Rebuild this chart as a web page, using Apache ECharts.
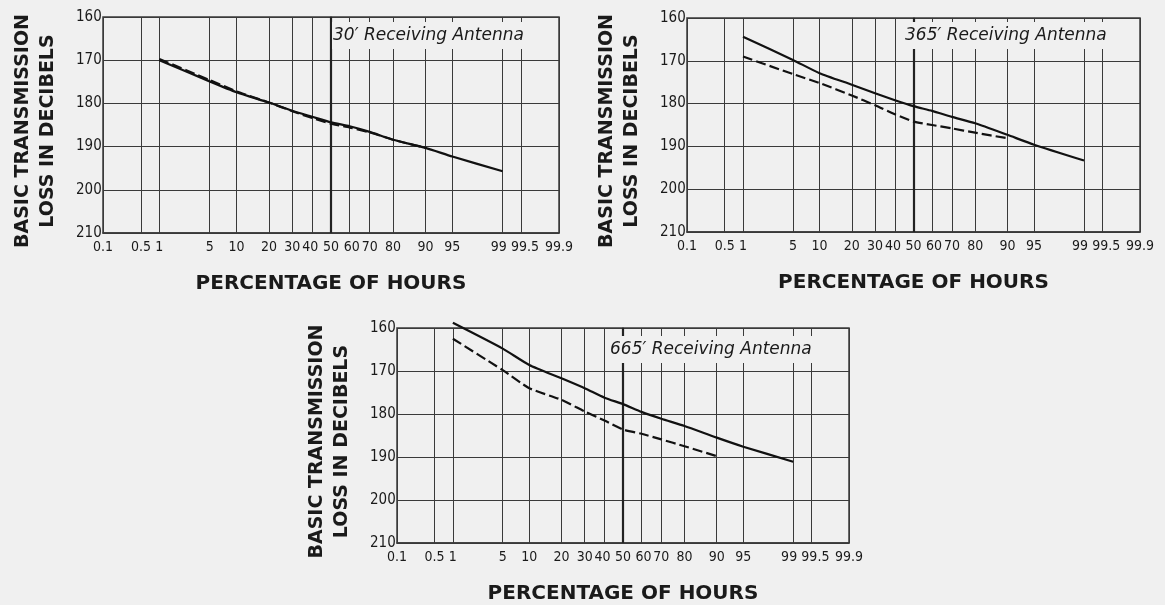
<!DOCTYPE html>
<html>
<head>
<meta charset="utf-8">
<script src="https://cdn.jsdelivr.net/npm/echarts@6/dist/echarts.min.js"></script>
<style>
  html, body { margin: 0; padding: 0; background: #f0f0f0; }
  #chart { width: 1165px; height: 605px; }
</style>
</head>
<body>
<div id="chart"></div>
<script>
// ---- data ----
const percentTicks = [0.1, 0.5, 1, 5, 10, 20, 30, 40, 50, 60, 70, 80, 90, 95, 99, 99.5, 99.9];
const tickLabels = ['0.1', '0.5', '1', '5', '10', '20', '30', '40', '50', '60', '70', '80', '90', '95', '99', '99.5', '99.9'];
const lossMin = 160;
const lossMax = 210;
const lossStep = 10;

const pctSolid = [1, 5, 10, 20, 30, 40, 50, 60, 70, 80, 90, 95, 99];
const pctDashed = [1, 5, 10, 20, 30, 40, 50, 60, 70, 80, 90];

const ant30Solid = [170.0, 174.9, 177.4, 179.8, 181.7, 183.1, 184.4, 185.3, 186.6, 188.4, 190.3, 192.3, 195.7];
const ant30Dashed = [169.7, 174.6, 177.2, 179.8, 181.8, 183.4, 184.7, 185.6, 186.7, 188.4, 190.3];
const ant365Solid = [164.4, 169.8, 172.9, 175.6, 177.6, 179.2, 180.6, 181.7, 183.1, 184.6, 187.3, 189.6, 193.3];
const ant365Dashed = [169.0, 173.1, 175.2, 178.1, 180.4, 182.5, 184.2, 185.0, 185.8, 186.8, 188.1];
const ant665Solid = [158.8, 164.8, 168.6, 171.7, 174.0, 176.2, 177.7, 179.5, 181.1, 182.8, 185.5, 187.6, 191.1];
const ant665Dashed = [162.5, 169.8, 174.0, 176.7, 179.4, 181.5, 183.6, 184.6, 185.9, 187.5, 189.8];

const panelTitles = ["30\u2032 Receiving Antenna", "365\u2032 Receiving Antenna", "665\u2032 Receiving Antenna"];
const yTitle = 'BASIC TRANSMISSION\nLOSS IN DECIBELS';
const xTitle = 'PERCENTAGE OF HOURS';

// ---- normal probability scale (inverse normal CDF, Acklam) ----
function probit(p) {
  const a = [-3.969683028665376e+01, 2.209460984245205e+02, -2.759285104469687e+02, 1.383577518672690e+02, -3.066479806614716e+01, 2.506628277459239e+00];
  const b = [-5.447609879822406e+01, 1.615858368580409e+02, -1.556989798598866e+02, 6.680131188771972e+01, -1.328068155288572e+01];
  const c = [-7.784894002430293e-03, -3.223964580411365e-01, -2.400758277161838e+00, -2.549732539343734e+00, 4.374664141464968e+00, 2.938163982698783e+00];
  const d = [7.784695709041462e-03, 3.224671290700398e-01, 2.445134137142996e+00, 3.754408661907416e+00];
  const pl = 0.02425, ph = 1 - pl;
  let q, r;
  if (p < pl) {
    q = Math.sqrt(-2 * Math.log(p));
    return (((((c[0]*q+c[1])*q+c[2])*q+c[3])*q+c[4])*q+c[5]) / ((((d[0]*q+d[1])*q+d[2])*q+d[3])*q+1);
  }
  if (p <= ph) {
    q = p - 0.5; r = q * q;
    return (((((a[0]*r+a[1])*r+a[2])*r+a[3])*r+a[4])*r+a[5])*q / (((((b[0]*r+b[1])*r+b[2])*r+b[3])*r+b[4])*r+1);
  }
  q = Math.sqrt(-2 * Math.log(1 - p));
  return -(((((c[0]*q+c[1])*q+c[2])*q+c[3])*q+c[4])*q+c[5]) / ((((d[0]*q+d[1])*q+d[2])*q+d[3])*q+1);
}
const zOf = pct => probit(pct / 100);
const tickZ = percentTicks.map(zOf);
const zMin = zOf(percentTicks[0]);
const zMax = zOf(percentTicks[percentTicks.length - 1]);
const pairs = (pcts, vals) => pcts.map((p, i) => [zOf(p), vals[i]]);

// labels squeezed by neighbours are nudged apart with spaces
const padRight = { '99': '  ', '40': ' ' };
const padLeft = { '99.5': '  ', '60': ' ' };
function labelFor(v) {
  for (let i = 0; i < tickZ.length; i++) {
    if (Math.abs(tickZ[i] - v) < 1e-6) {
      const t = tickLabels[i];
      return (padLeft[t] || '') + t + (padRight[t] || '');
    }
  }
  return '';
}

// ---- styling ----
const BG = '#f0f0f0';
const INK = '#1a1a1a';
const GRIDC = '#3a3a3a';
const tickFont = '"Liberation Sans Narrow", "DejaVu Sans Condensed", "Arial Narrow", sans-serif';
const titleFont = '"DejaVu Sans", sans-serif';
const tickSize = 14;

const grids = [
  { left: 103, top: 17, width: 456, height: 216 },
  { left: 687, top: 15, width: 453, height: 217 },
  { left: 397, top: 328, width: 452, height: 216 }
];

const xAxes = grids.map((g, i) => ({
  type: 'value', gridIndex: i, min: zMin, max: zMax,
  axisLine: { show: true, lineStyle: { color: GRIDC, width: 1.5 } },
  axisTick: { show: false, customValues: tickZ },
  splitLine: { show: true, lineStyle: { color: GRIDC, width: 1 } },
  axisLabel: {
    customValues: tickZ, formatter: labelFor, margin: 7,
    fontFamily: tickFont, fontSize: tickSize, color: INK
  },
  name: xTitle, nameLocation: 'middle', nameGap: 41,
  nameTextStyle: { fontFamily: titleFont, fontWeight: 'bold', fontSize: 20, color: INK }
}));

const yAxes = grids.map((g, i) => ({
  type: 'value', gridIndex: i, min: lossMin, max: lossMax, interval: lossStep, inverse: true,
  axisLine: { show: true, lineStyle: { color: GRIDC, width: 1.5 } },
  axisTick: { show: false },
  splitLine: { show: true, lineStyle: { color: GRIDC, width: 1 } },
  axisLabel: { fontFamily: tickFont, fontSize: tickSize + 1, color: INK, align: 'left', margin: 27 },
  name: yTitle, nameLocation: 'middle', nameRotate: 90, nameGap: 42,
  nameTextStyle: {
    fontFamily: titleFont, fontWeight: 'bold', fontSize: 19, lineHeight: 25, color: INK,
    align: 'center', padding: [0, 12, 0, 0]
  }
}));

const solidData = [ant30Solid, ant365Solid, ant665Solid];
const dashedData = [ant30Dashed, ant365Dashed, ant665Dashed];

const series = [];
for (let i = 0; i < 3; i++) {
  series.push({
    type: 'line', xAxisIndex: i, yAxisIndex: i, data: pairs(pctSolid, solidData[i]),
    showSymbol: false, clip: false, smooth: 0.2,
    lineStyle: { color: '#111', width: 2.2, type: 'solid' },
    markLine: {
      silent: true, symbol: ['none', 'none'], label: { show: false },
      lineStyle: { color: '#222', width: 2.2, type: 'solid' },
      data: [{ xAxis: zOf(50) }]
    },
    z: 5
  });
  series.push({
    type: 'line', xAxisIndex: i, yAxisIndex: i, data: pairs(pctDashed, dashedData[i]),
    showSymbol: false, clip: false, smooth: 0.2,
    lineStyle: { color: '#111', width: 2.2, type: [10, 4] },
    z: 5
  });
}

const titlePos = [
  { left: 332, top: 22 },
  { left: 904, top: 22 },
  { left: 609, top: 336 }
];
const graphic = panelTitles.map((t, i) => ({
  type: 'text', left: titlePos[i].left, top: titlePos[i].top, z: 50,
  style: {
    text: t, fill: INK, font: 'italic 17px "DejaVu Sans", sans-serif',
    backgroundColor: BG, padding: [5, 3, 5, 1]
  }
}));

const chart = echarts.init(document.getElementById('chart'), null, { renderer: 'canvas' });
chart.setOption({
  backgroundColor: BG,
  animation: false,
  grid: grids.map(g => Object.assign({ show: true, borderColor: GRIDC, borderWidth: 1.5, containLabel: false }, g)),
  xAxis: xAxes,
  yAxis: yAxes,
  series: series,
  graphic: graphic
});
</script>
</body>
</html>
